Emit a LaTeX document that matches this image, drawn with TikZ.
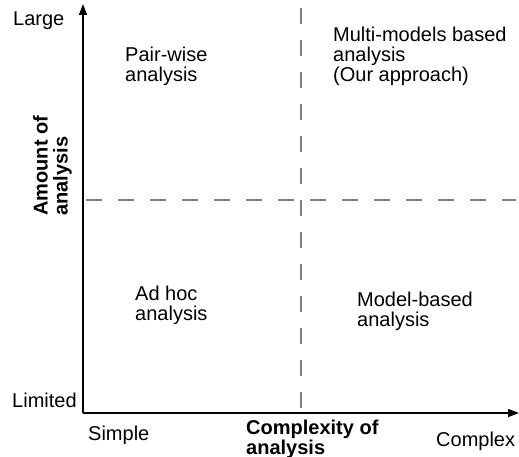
\documentclass[tikz,border=0pt]{standalone}
\usepackage{fontspec}
\setmainfont{Liberation Sans}
\usetikzlibrary{arrows.meta}

\begin{document}
\begin{tikzpicture}[
  x=1pt, y=-1pt,
  every node/.style={font=\fontsize{20}{20}\selectfont, inner sep=0pt},
  lbl/.style={anchor=north west, align=left},
  axis/.style={line width=1.4pt, -{Triangle[length=11pt,width=8pt]}},
  divider/.style={gray, line width=1.2pt, dash pattern=on 16pt off 16pt}
]
\useasboundingbox (0,0) rectangle (519,457);

\coordinate (o) at (83,413);
\coordinate (ytop) at (83,4);
\coordinate (xend) at (519,413);
\coordinate (vtop) at (301,8);
\coordinate (vbot) at (301,408);
\coordinate (hleft) at (86,200);
\coordinate (hright) at (516,200);

\draw [divider] (vtop) -- (vbot);
\draw [divider] (hleft) -- (hright);
\draw [axis] (o) -- (ytop);
\draw [axis] (o) -- (xend);

\node (large) [anchor=west] at (13,21) {Large};
\node (limited) [anchor=west] at (12,400) {Limited};
\node (simple) [anchor=west] at (88,435) {Simple};
\node (complex) [anchor=west] at (436,441) {Complex};
\node (xtitle) [lbl, font=\fontsize{20}{20}\selectfont\bfseries] at (246,420) {Complexity of\\analysis};
\node (ytitle) [anchor=south west, align=left, rotate=90, font=\fontsize{20}{20}\selectfont\bfseries] at (72,216) {Amount of\\analysis};

\node (pair) [lbl] at (125,47) {Pair-wise\\analysis};
\node (multi) [lbl] at (333,27) {Multi-models based\\analysis\\(Our approach)};
\node (adhoc) [lbl] at (135,286) {Ad hoc\\analysis};
\node (model) [lbl] at (357,292) {Model-based\\analysis};
\end{tikzpicture}
\end{document}
